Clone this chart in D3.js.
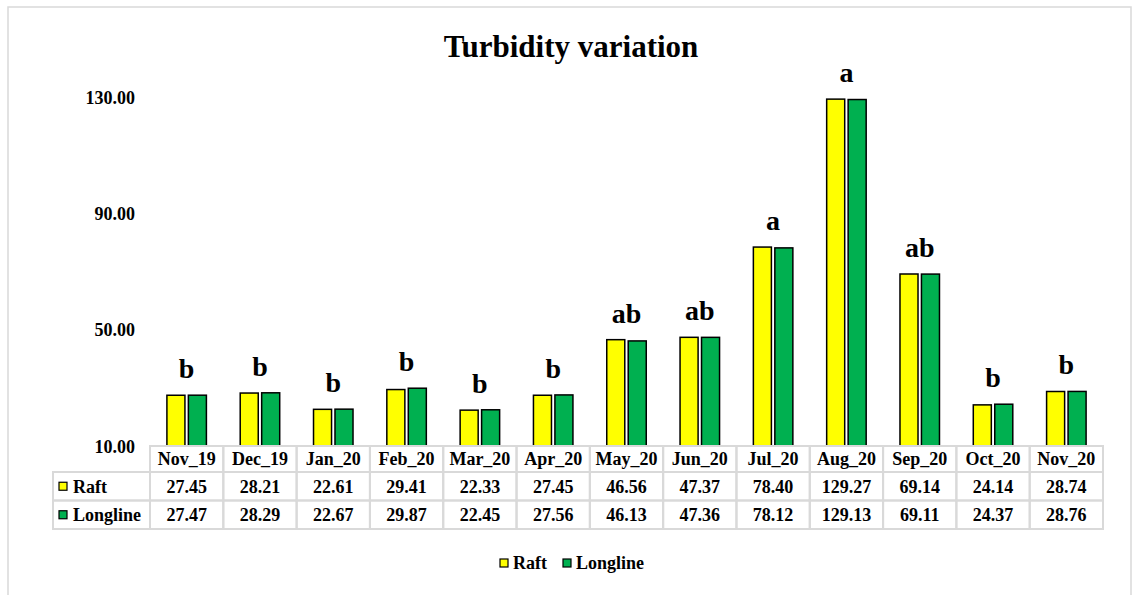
<!DOCTYPE html>
<html>
<head>
<meta charset="utf-8">
<script src="https://cdn.jsdelivr.net/npm/d3@7"></script>
<style>
    body { margin: 0; background: #fff; }
    svg text { font-family: "Liberation Serif", "Times New Roman", serif; font-weight: bold; fill: #000; }
</style>
</head>
<body>
<div id="chart"></div>
<script>
const months = ["Nov_19", "Dec_19", "Jan_20", "Feb_20", "Mar_20", "Apr_20", "May_20",
    "Jun_20", "Jul_20", "Aug_20", "Sep_20", "Oct_20", "Nov_20"];
const seriesNames = ["Raft", "Longline"];
const raft = [27.45, 28.21, 22.61, 29.41, 22.33, 27.45, 46.56, 47.37, 78.40, 129.27, 69.14, 24.14, 28.74];
const longline = [27.47, 28.29, 22.67, 29.87, 22.45, 27.56, 46.13, 47.36, 78.12, 129.13, 69.11, 24.37, 28.76];
const letters = ["b", "b", "b", "b", "b", "b", "ab", "ab", "a", "a", "ab", "b", "b"];
const yTicks = [10, 50, 90, 130];

const width = 1134;
const height = 595;
const colors = {Raft: "#FFFF00", Longline: "#00B050"};
const gridColor = "#d9d9d9";

const svg = d3.select("#chart").append("svg")
    .attr("width", width)
    .attr("height", height);

// outer frame
svg.append("rect")
    .attr("x", 8).attr("y", 7)
    .attr("width", 1123).attr("height", 600)
    .attr("fill", "none")
    .attr("stroke", gridColor)
    .attr("stroke-width", 1.5);

svg.append("text")
    .attr("x", 571).attr("y", 57)
    .attr("text-anchor", "middle")
    .style("font-size", "31px")
    .text("Turbidity variation");

const x = d3.scaleBand()
    .domain(months)
    .range([150, 1103])
    .padding(0);

const groupWidth = 39.5;
const x1 = d3.scaleBand()
    .domain(seriesNames)
    .range([0, groupWidth])
    .paddingInner(0.16);
const groupOffset = (x.bandwidth() - groupWidth) / 2;

const y = d3.scaleLinear()
    .domain([10, 130])
    .range([446, 97]);

// y axis labels only
svg.append("g")
    .attr("transform", "translate(135,0)")
    .call(d3.axisLeft(y).tickValues(yTicks).tickFormat(d3.format(".2f")).tickSize(0).tickPadding(0))
    .call(g => g.select(".domain").remove())
    .selectAll("text")
    .style("font-size", "18px")
    .attr("dy", "0.35em");

const rows = months.map((m, i) => ({month: m, Raft: raft[i], Longline: longline[i], letter: letters[i]}));

const groups = svg.selectAll(".bar-group")
    .data(rows)
    .join("g")
    .attr("class", "bar-group")
    .attr("transform", d => `translate(${x(d.month) + groupOffset},0)`);

groups.selectAll("rect")
    .data(d => seriesNames.map(s => ({key: s, value: d[s]})))
    .join("rect")
    .attr("x", d => x1(d.key))
    .attr("width", x1.bandwidth())
    .attr("y", d => y(d.value))
    .attr("height", d => y(10) - y(d.value))
    .attr("fill", d => colors[d.key])
    .attr("stroke", "#000")
    .attr("stroke-width", 1.5);

groups.append("text")
    .attr("x", groupWidth / 2)
    .attr("y", d => y(Math.max(d.Raft, d.Longline)) - 17)
    .attr("text-anchor", "middle")
    .style("font-size", "28px")
    .text(d => d.letter);

// data table
const headerTop = 446, rowH = 28.5;
const table = svg.append("g");
const cells = [];
months.forEach((m, i) => {
    cells.push({x: x(m), y: headerTop, w: x.bandwidth(), h: 26, text: m});
    cells.push({x: x(m), y: headerTop + 26, w: x.bandwidth(), h: rowH, text: raft[i].toFixed(2)});
    cells.push({x: x(m), y: headerTop + 26 + rowH, w: x.bandwidth(), h: rowH, text: longline[i].toFixed(2)});
});
seriesNames.forEach((s, i) => {
    cells.push({x: 53, y: headerTop + 26 + i * rowH, w: 97, h: rowH, text: null, series: s});
});

table.selectAll("rect")
    .data(cells)
    .join("rect")
    .attr("x", d => d.x).attr("y", d => d.y)
    .attr("width", d => d.w).attr("height", d => d.h)
    .attr("fill", "none")
    .attr("stroke", gridColor)
    .attr("stroke-width", 2);

table.selectAll(".cell-text")
    .data(cells.filter(d => d.text))
    .join("text")
    .attr("class", "cell-text")
    .attr("x", d => d.x + d.w / 2)
    .attr("y", d => d.y + d.h / 2)
    .attr("dy", "0.35em")
    .attr("text-anchor", "middle")
    .style("font-size", "18px")
    .text(d => d.text);

const rowKeys = table.selectAll(".row-key")
    .data(cells.filter(d => d.series))
    .join("g")
    .attr("class", "row-key")
    .attr("transform", d => `translate(${d.x},${d.y + d.h / 2})`);

rowKeys.append("rect")
    .attr("x", 6).attr("y", -4)
    .attr("width", 8).attr("height", 8)
    .attr("fill", d => colors[d.series])
    .attr("stroke", "#000")
    .attr("stroke-width", 1.2);

rowKeys.append("text")
    .attr("x", 20)
    .attr("dy", "0.35em")
    .style("font-size", "18px")
    .text(d => d.series);

// bottom legend
const legendX = [500, 563];
const legend = svg.selectAll(".legend")
    .data(seriesNames)
    .join("g")
    .attr("class", "legend")
    .attr("transform", (d, i) => `translate(${legendX[i]},563)`);

legend.append("rect")
    .attr("x", 0).attr("y", -4)
    .attr("width", 8).attr("height", 8)
    .attr("fill", d => colors[d])
    .attr("stroke", "#000")
    .attr("stroke-width", 1.2);

legend.append("text")
    .attr("x", 13)
    .attr("dy", "0.35em")
    .style("font-size", "18px")
    .text(d => d);
</script>
</body>
</html>
